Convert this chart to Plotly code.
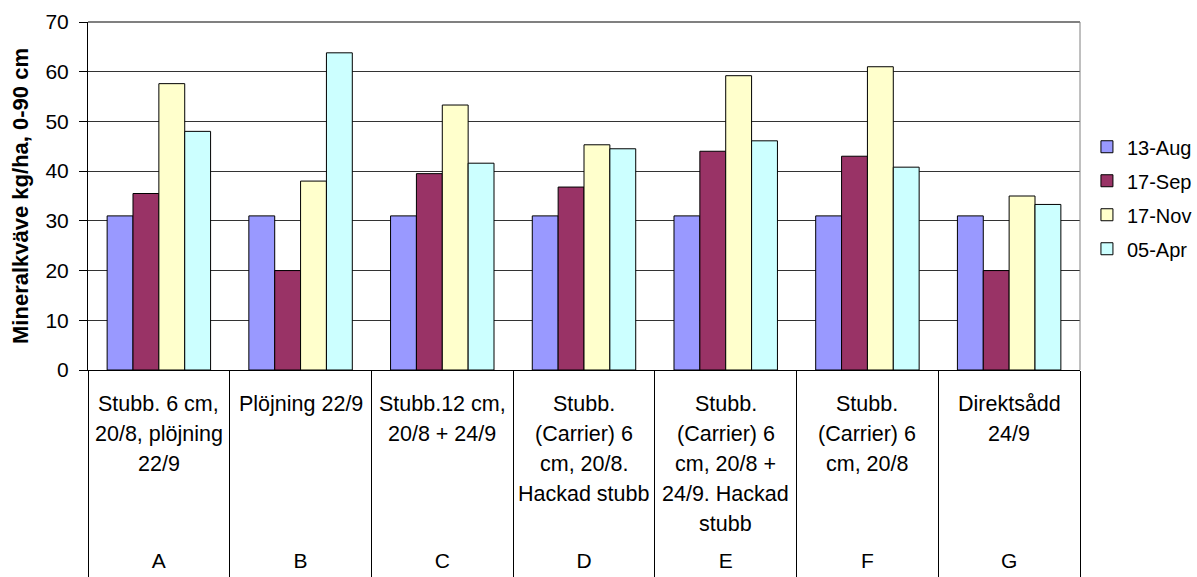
import plotly.graph_objects as go

# Treatments (A–G) and their descriptions under the axis
categories = ["A", "B", "C", "D", "E", "F", "G"]
descriptions = [
    ["Stubb. 6 cm,", "20/8, plöjning", "22/9"],
    ["Plöjning 22/9"],
    ["Stubb.12 cm,", "20/8 + 24/9"],
    ["Stubb.", "(Carrier) 6", "cm, 20/8.", "Hackad stubb"],
    ["Stubb.", "(Carrier) 6", "cm, 20/8 +", "24/9. Hackad", "stubb"],
    ["Stubb.", "(Carrier) 6", "cm, 20/8"],
    ["Direktsådd", "24/9"],
]

# Mineral nitrogen (kg/ha, 0-90 cm) per sampling date
aug13 = [31, 31, 31, 31, 31, 31, 31]
sep17 = [35.5, 20, 39.5, 36.8, 44, 43, 20]
nov17 = [57.6, 38, 53.3, 45.3, 59.2, 61, 35]
apr05 = [48, 63.8, 41.6, 44.5, 46.1, 40.8, 33.3]

y_ticks = [0, 10, 20, 30, 40, 50, 60, 70]

series = [
    ("13-Aug", aug13, "#9999FF"),
    ("17-Sep", sep17, "#993366"),
    ("17-Nov", nov17, "#FFFFCC"),
    ("05-Apr", apr05, "#CCFFFF"),
]

FONT = "Liberation Sans, Arial, sans-serif"

fig = go.Figure()
for i, (name, vals, color) in enumerate(series):
    fig.add_trace(go.Bar(
        x=categories, y=vals, name=name,
        marker=dict(color=color, line=dict(color="black", width=1)),
        legendgroup=f"g{i}",
    ))

# Multi-line treatment descriptions, one annotation per line
annotations = []
for ci, lines in enumerate(descriptions):
    for li, line in enumerate(lines):
        annotations.append(dict(
            x=categories[ci], xref="x", y=0, yref="paper",
            yanchor="middle", yshift=-34 - 30 * li,
            text=line, showarrow=False,
            font=dict(family=FONT, size=21.5, color="black"),
        ))

shapes = [
    # top and right frame of the plot area
    dict(type="line", xref="paper", yref="paper", x0=0, x1=1, y0=1, y1=1,
         line=dict(color="#808080", width=2)),
    dict(type="line", xref="paper", yref="paper", x0=1, x1=1, y0=0, y1=1,
         line=dict(color="#808080", width=1)),
]

fig.update_layout(
    width=1197, height=577,
    margin=dict(l=88, r=117, t=22, b=207, autoexpand=False),
    paper_bgcolor="white", plot_bgcolor="white",
    barmode="group", bargap=0.27, bargroupgap=0,
    font=dict(family=FONT, size=18, color="black"),
    showlegend=True,
    legend=dict(
        x=1.007, y=0.495, xanchor="left", yanchor="middle",
        font=dict(family=FONT, size=20, color="black"),
        tracegroupgap=5, itemwidth=30,
    ),
    annotations=annotations,
    shapes=shapes,
)

fig.update_xaxes(
    type="category", range=[-0.5, 6.5], automargin=False,
    showline=True, linecolor="black", linewidth=1,
    ticks="outside", tickson="boundaries", ticklen=207,
    tickcolor="black", tickwidth=1,
    ticklabelstandoff=172,
    tickfont=dict(family=FONT, size=21, color="black"),
    showgrid=False, zeroline=False,
)

fig.update_yaxes(
    range=[0, 70], tickvals=y_ticks, automargin=False,
    showline=True, linecolor="black", linewidth=1,
    ticks="outside", ticklen=8, tickcolor="black",
    tickfont=dict(family=FONT, size=21, color="black"),
    ticklabelstandoff=6,
    showgrid=True, gridcolor="#333333", gridwidth=1,
    zeroline=False,
    title=dict(text="<b>Mineralkväve kg/ha, 0-90 cm</b>",
               font=dict(family=FONT, size=22, color="black"), standoff=10),
)

fig.write_html("out.html")
